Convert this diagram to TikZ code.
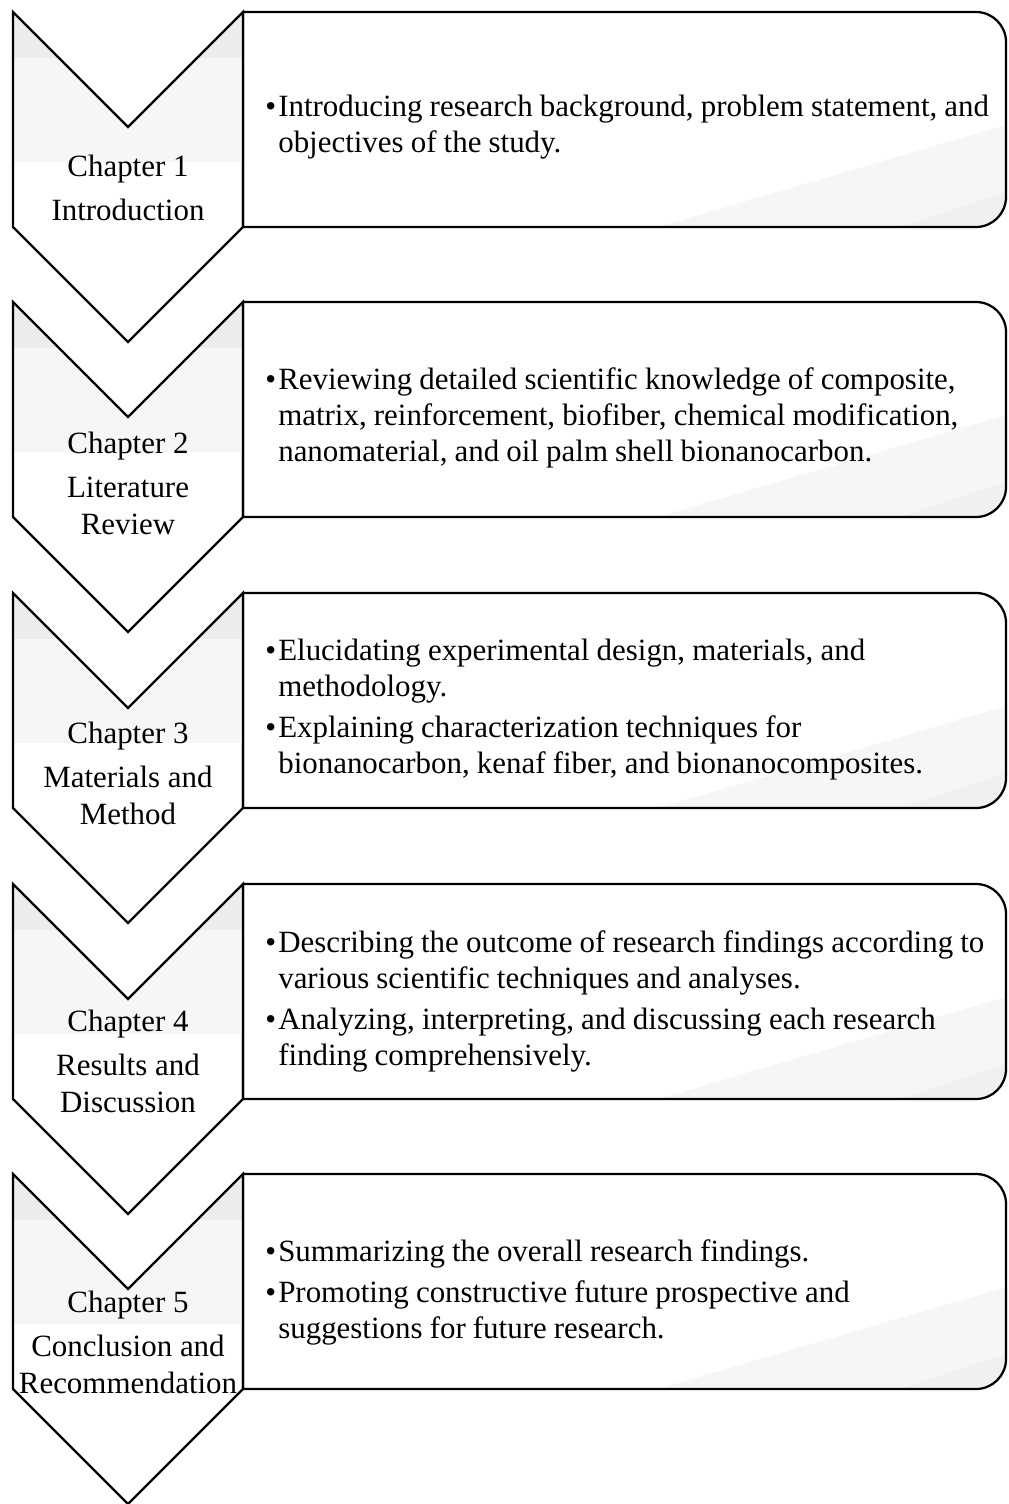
\documentclass[tikz,border=0pt]{standalone}
\usepackage{fontspec}
\setmainfont{Liberation Serif}
\usetikzlibrary{positioning}

\newcommand{\bitem}[1]{\par\raggedright\spaceskip=0.23em plus 0.1em\hangindent=0.325cm\hangafter=1\noindent\makebox[0.325cm][l]{\textbullet}#1\par}
\newcommand{\itemgap}{\vspace{3.5pt}}

\begin{document}
\begin{tikzpicture}[
    x=0.025cm, y=-0.025cm,
    % Node styles
    outline/.style={
        draw=black,
        line width=1.6pt,
        line join=miter
    },
    chapter/.style={
        align=center,
        inner sep=0pt,
        font=\fontsize{22}{26}\selectfont
    },
    summary/.style={
        anchor=west,
        text width=19cm,
        inner sep=0pt,
        font=\fontsize{22}{25.6}\selectfont
    }
]
\useasboundingbox (0,0) rectangle (1008,1504);

% chevrons and boxes
\foreach \t in {12,302,593,884,1174}{
    \begin{scope}
        \clip (243,\t+215) -- (243,\t) [rounded corners=0.75cm] -- (1006,\t) -- (1006,\t+215) [sharp corners] -- (243,\t+215) -- cycle;
        \fill[gray!7] (658,\t+215) -- (1006,\t+113) -- (1006,\t+215) -- cycle;
        \fill[gray!12] (900,\t+215) -- (1006,\t+180) -- (1006,\t+215) -- cycle;
    \end{scope}
    \draw[outline] (243,\t+215) -- (243,\t) [rounded corners=0.75cm] -- (1006,\t) -- (1006,\t+215) [sharp corners] -- (243,\t+215) -- cycle;

    \begin{scope}
        \clip (13,\t) -- (128,\t+115) -- (243,\t) -- (243,\t+215) -- (128,\t+330) -- (13,\t+215) -- cycle;
        \fill[gray!15] (13,\t) rectangle (243,\t+46);
        \fill[gray!7] (13,\t+46) rectangle (243,\t+150);
    \end{scope}
    \draw[outline] (13,\t) -- (128,\t+115) -- (243,\t) -- (243,\t+215) -- (128,\t+330) -- (13,\t+215) -- cycle;
}

% Position nodes
\node[chapter] (ch1) at (128,188) {Chapter 1\\[0.2cm]Introduction};
\node[chapter] (ch2) at (128,483) {Chapter 2\\[0.2cm]Literature\\Review};
\node[chapter] (ch3) at (128,773) {Chapter 3\\[0.2cm]Materials and\\Method};
\node[chapter] (ch4) at (128,1061) {Chapter 4\\[0.2cm]Results and\\Discussion};
\node[chapter] (ch5) at (128,1342) {Chapter 5\\[0.2cm]Conclusion and\\Recommendation};

\node[summary] (sum1) at (265,120) {\bitem{Introducing research background, problem statement, and\newline objectives of the study.}};

\node[summary] (sum2) at (265,411) {\bitem{Reviewing detailed scientific knowledge of composite,\newline matrix, reinforcement, biofiber, chemical modification,\newline nanomaterial, and oil palm shell bionanocarbon.}};

\node[summary] (sum3) at (265,702) {\bitem{Elucidating experimental design, materials, and\newline methodology.}\itemgap
    \bitem{Explaining characterization techniques for\newline bionanocarbon, kenaf fiber, and bionanocomposites.}};

\node[summary] (sum4) at (265,994) {\bitem{Describing the outcome of research findings according to\newline various scientific techniques and analyses.}\itemgap
    \bitem{Analyzing, interpreting, and discussing each research\newline finding comprehensively.}};

\node[summary] (sum5) at (265,1285) {\bitem{Summarizing the overall research findings.}\itemgap
    \bitem{Promoting constructive future prospective and\newline suggestions for future research.}};

\end{tikzpicture}
\end{document}
